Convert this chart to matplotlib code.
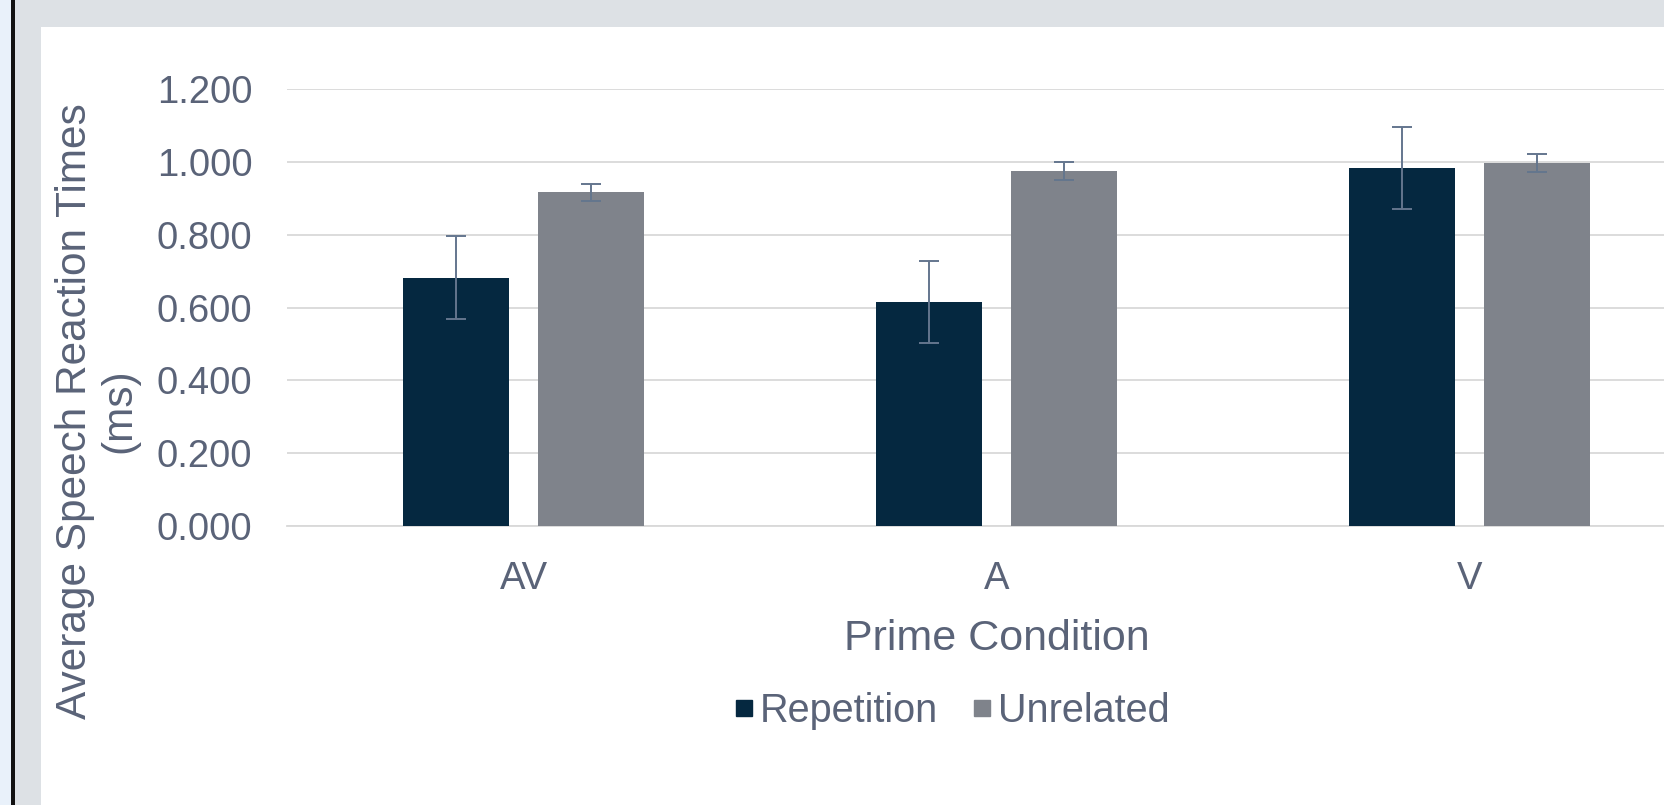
import matplotlib
matplotlib.use("Agg")
import matplotlib.pyplot as plt
from matplotlib.patches import Rectangle
from matplotlib.lines import Line2D
import numpy as np

# ---- data ----
categories = ["AV", "A", "V"]
series_names = ["Repetition", "Unrelated"]
repetition = [0.682, 0.616, 0.983]
unrelated = [0.916, 0.975, 0.997]
repetition_err = [0.114, 0.113, 0.113]
unrelated_err = [0.023, 0.024, 0.025]
yticks = [0.0, 0.2, 0.4, 0.6, 0.8, 1.0, 1.2]
xlabel = "Prime Condition"
ylabel = "Average Speech Reaction Times\n(ms)"

# ---- style ----
plt.rcParams['font.family'] = ['Liberation Sans', 'DejaVu Sans']
TEXT = '#5a6378'
C_REP = '#052840'
C_UNR = '#7f838b'
ERR = '#64768e'
GRID = '#d9d9d9'

W, H = 1664, 805
fig = plt.figure(figsize=(W / 100, H / 100), dpi=100)
fig.patch.set_facecolor('#dde1e5')
# background decorations
fig.patches.append(Rectangle((0, 0), 11 / W, 1, transform=fig.transFigure,
                             facecolor='#e9f1fa', edgecolor='none', zorder=-5))
fig.patches.append(Rectangle((11 / W, 0), 4 / W, 1, transform=fig.transFigure,
                             facecolor='#111111', edgecolor='none', zorder=-5))
fig.patches.append(Rectangle((41 / W, 0), 1 - 41 / W, 1 - 27 / H, transform=fig.transFigure,
                             facecolor='white', edgecolor='none', zorder=-5))

ax_left, ax_right = 287, 1706
ax_top, ax_bot = 89, 526
ax = fig.add_axes([ax_left / W, 1 - ax_bot / H, (ax_right - ax_left) / W, (ax_bot - ax_top) / H])
ax.set_facecolor('none')
ax.set_zorder(2)

x = np.arange(len(categories))
bw = 0.224
off = 0.142
ax.bar(x - off, repetition, bw, color=C_REP, zorder=3)
ax.bar(x + off, unrelated, bw, color=C_UNR, zorder=3)
ax.errorbar(x - off, repetition, yerr=repetition_err, fmt='none', ecolor=ERR,
            elinewidth=1.4, capsize=7.2, capthick=1.4, zorder=4)
ax.errorbar(x + off, unrelated, yerr=unrelated_err, fmt='none', ecolor=ERR,
            elinewidth=1.4, capsize=7.2, capthick=1.4, zorder=4)

ax.set_xlim(-0.5, len(categories) - 0.5)
ax.set_ylim(0, 1.2)
ax.set_yticks(yticks)
ax.set_yticklabels([f"{v:.3f}" for v in yticks])
ax.set_xticks(x)
ax.set_xticklabels(categories)
ax.grid(axis='y', color=GRID, lw=1.3, zorder=0)
for s in ['top', 'right', 'left']:
    ax.spines[s].set_visible(False)
ax.spines['bottom'].set_color(GRID)
ax.spines['bottom'].set_linewidth(1.3)
ax.tick_params(axis='both', length=0, labelsize=27.5, labelcolor=TEXT)
ax.tick_params(axis='y', pad=25)
ax.tick_params(axis='x', pad=25)
ax.set_xlabel(xlabel, fontsize=31, color=TEXT, labelpad=16)

fig.text(97 / W, 1 - 411 / H, ylabel, rotation=90, ha='center', va='center',
         multialignment='center', fontsize=30.5, color=TEXT, linespacing=1.15)

handles = [Line2D([], [], marker='s', ls='', color=C_REP, markersize=11.5),
           Line2D([], [], marker='s', ls='', color=C_UNR, markersize=11.5)]
fig.legend(handles, series_names, loc='center', bbox_to_anchor=(952 / W, 1 - 711 / H),
           ncol=2, frameon=False, fontsize=28.5, labelcolor=TEXT,
           handlelength=0.5, handletextpad=0.15, columnspacing=0.85, borderaxespad=0)

fig.savefig('out.png', dpi=100, facecolor=fig.get_facecolor())
